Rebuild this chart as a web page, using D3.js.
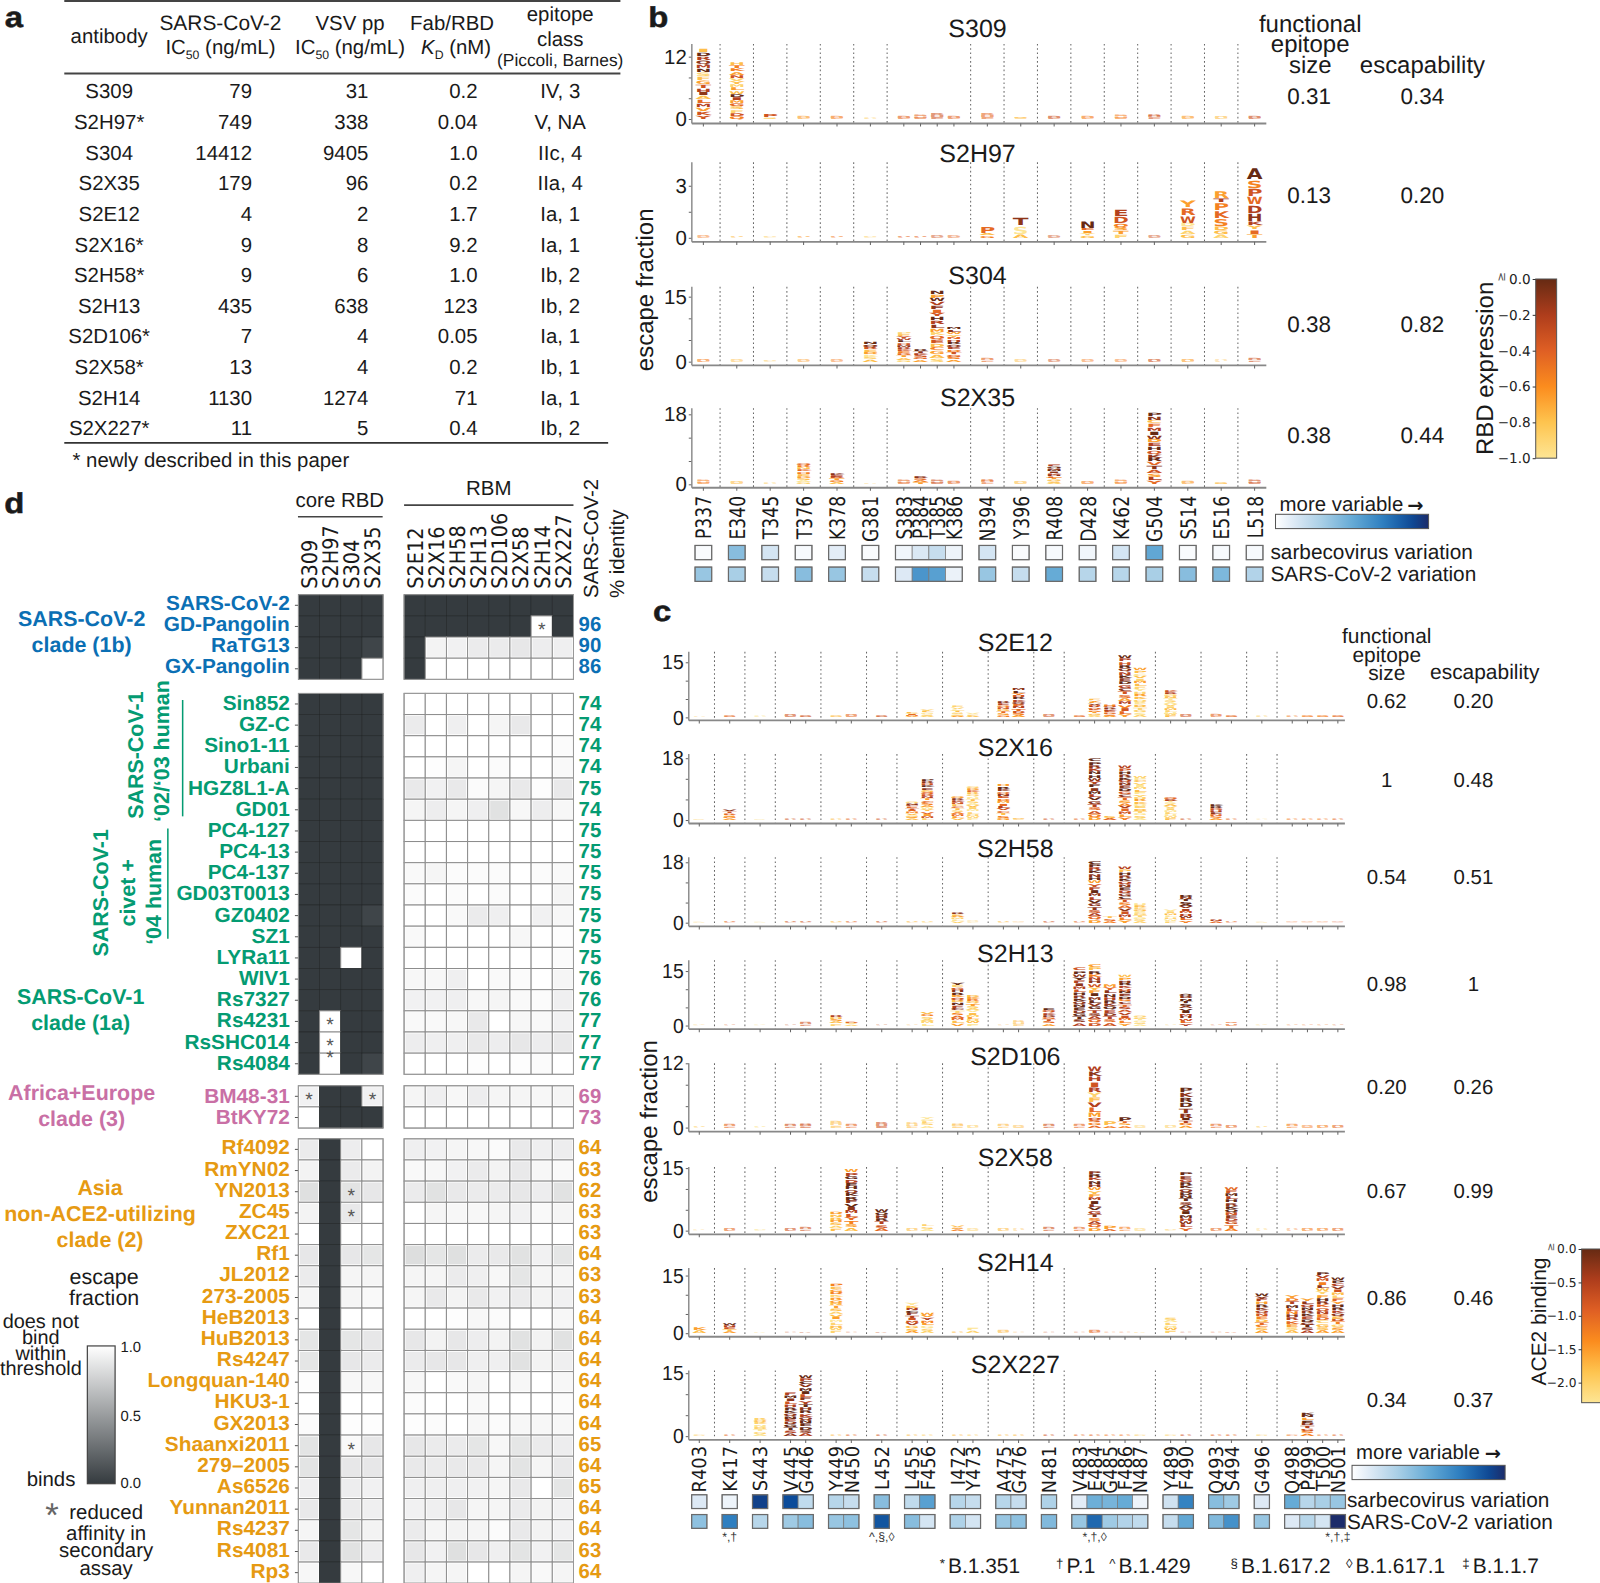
<!DOCTYPE html>
<html><head><meta charset="utf-8">
<script src="https://cdn.jsdelivr.net/npm/d3@7"></script>
<style>html,body{margin:0;padding:0;background:#fff}svg{display:block}text{font-family:"Liberation Sans",Arial,sans-serif;fill:#1a1a1a;text-rendering:geometricPrecision}</style>
</head><body><div id="c"></div>
<script>
// ---------- panel a ----------
const tableRows=[["S309","79","31","0.2","IV, 3"],["S2H97*","749","338","0.04","V, NA"],["S304","14412","9405","1.0","IIc, 4"],["S2X35","179","96","0.2","IIa, 4"],["S2E12","4","2","1.7","Ia, 1"],["S2X16*","9","8","9.2","Ia, 1"],["S2H58*","9","6","1.0","Ib, 2"],["S2H13","435","638","123","Ib, 2"],["S2D106*","7","4","0.05","Ia, 1"],["S2X58*","13","4","0.2","Ib, 1"],["S2H14","1130","1274","71","Ia, 1"],["S2X227*","11","5","0.4","Ib, 2"]];
// ---------- panel b ----------
const groupsB=[["P337"],["E340"],["T345"],["T376"],["K378"],["G381"],["S383","P384","T385","K386"],["N394"],["Y396"],["R408"],["D428"],["K462"],["G504"],["S514"],["E516"],["L518"]];
const escS309=[13.6,11,1,.5,.5,.2,.5,.6,.8,.5,.8,.3,.5,.5,.6,.7,.5,.4,.5];
const escS2H97=[.1,.07,.05,.07,.07,.05,.07,.07,.1,.08,.67,1.2,.08,1.0,1.7,.1,2.2,2.75,4.1];
const escS304=[.5,.4,.2,.4,.4,4.6,6.9,3,16.5,8,.6,.4,.4,.4,.4,.5,.5,.3,.6];
const escS2X35=[.8,.5,.3,5.5,3,.2,.8,2,.8,.7,1,.5,5,.5,.8,18.6,.7,.4,.8];
const lettersS309={P337:"Y6K6V3M7L5A2I8H7T6G3F2S1N9M7Q8R7D9I2",E340:"Q4D6F1S2G5M3I7D9W2L3M1Y2V1N6A3K4T4H2",T345:"S1*1P6*2"};
const lettersS2H97={N394:"G4*1A2*1P5*3",Y396:"A2*1S0*2T8*2",D428:"G2*1Y1*1I3*1E5*1N9*3",K462:"F1*1T3*1S3*1Q4*1D6*2E7*2",S514:"G2*1A1*1F2*1D0*1W6*2R5*2Y3*2",E516:"A1*1G2*1D2*1S4*2K5*2P4*2T7*1R3*2",L518:"T3*1I5*1Y2*1K7*1H8*2D7*2W5*2P6*2S4*2A9*3"};
const lettersS304={G381:"A2S1K0D3E2R6Q8N9",S383:"G1A2T3D5E4K6R7M8H6L9W7Y6F2P1",P384:"A3G5S6K7T8R9",T385:"S1A2G3C4D2E6Q5K1M3L8R7H9Y6I5F8V7W9P3N9",K386:"A3S4G5T6D4E7Q8R9H7N5Y2W3L8M9"};
const lettersS2X35={T376:"G1A0S2D3E2H4K5N2R4Q5",K378:"A2G4T3R6E7K8",P384:"T3A4S5R8",R408:"A1S2G2T3L5H8K7I8M9N8Q9F7",G504:"Y5L7S3A6T8V5R9K8Q6H9E7D3W8I9M7F5C2N8P9"};
const lowToneB=[4,2,1,3,4,1,5,5,6,5,5,2,6,4,4,6,3,2,6];
const sarbecoB=[.02,.4,.15,.03,.1,.02,.05,.13,.2,.06,.15,.02,.03,.05,.15,.52,.02,.03,.03];
const sars2B=[.35,.3,.2,.4,.35,.2,.12,.6,.55,.07,.35,.2,.5,.25,.25,.3,.4,.43,.27];
const metricsB=[["S309","0.31","0.34"],["S2H97","0.13","0.20"],["S304","0.38","0.82"],["S2X35","0.38","0.44"]];
// ---------- panel c ----------
const groupsC=[["R403"],["K417"],["S443"],["V445","G446"],["Y449","N450"],["L452"],["L455","F456"],["I472","Y473"],["A475","G476"],["N481"],["V483","E484","G485","F486","N487"],["Y489","F490"],["Q493","S494"],["G496"],["Q498","P499","T500","N501"]];
const escS2E12=[.2,.5,.3,.6,.5,.5,.6,.5,1.6,2.3,3.2,1.3,4.5,8,.6,.4,5,3.6,17,13.5,7.3,.6,.7,.4,.3,.3,.4,.4,.4];
const escS2X16=[.1,3,.1,.3,.3,.3,.3,.3,5.5,12,7,10,10.5,.4,.3,.3,18,1.4,16,13,6.8,.3,4.8,.3,.2,.3,.3,.3,.3];
const escS2H58=[.1,.3,.1,.3,.3,.3,.3,.3,.3,.3,3.2,.4,.3,.2,.3,.3,18.6,1.9,17,5.8,3.9,8.5,1,.3,.1,.2,.2,.2,.2];
const escS2H13=[.1,.2,.1,.2,.8,3,1.2,.2,.2,3.8,12,8.5,.2,1,4.8,16,17,11.5,14,2.8,.2,8.8,.2,.6,.1,.2,.2,.2,.2];
const escS2D106=[.2,.5,.2,.5,.6,.9,.5,.8,.7,2,.6,.4,.5,.3,.5,.5,11.5,1.2,2,.3,.4,7.5,.5,.4,.2,.5,.3,.4,.4];
const escS2X58=[.1,.5,.2,.5,.6,4.6,14.8,5.2,.5,1.5,1.2,.4,.5,.3,.6,.6,14.5,1.4,.7,.4,.2,14,.5,10.5,.3,.3,.5,.5,.5];
const escS2H14=[1.7,2.5,.1,.2,.1,13,.2,.1,8,5.5,.3,1.4,.7,.2,.2,.2,.7,.2,.2,.1,4.2,.2,.2,.1,10.5,10,9,16,14.5];
const escS2X227=[.2,.3,4.5,10.5,14.7,.3,.3,.3,.3,.3,.3,.3,.3,.3,.3,.3,.3,.3,.3,.2,.2,.3,.3,.3,.2,.2,5.8,.3,.3];
const lettersS2E12={L455:"A3M4I5V1F2",F456:"A1S1G0L2Y1",I472:"A3G1S1T2L0V1F1",Y473:"A2F1V0",A475:"G4S3T5D2N6Q4E7R8",G476:"A3S4D6T5N7E5Q8K7R9H6Y4L9M8",E484:"A1S1G2T3D4K6Q5R7H5V8L3Y3F2",G485:"A3S4D5E6K7R8Q6H4",F486:"Y3L5I6V4M7A3S5T6C8G7D9E8K9N7Q8R9H6P7W9",N487:"A1S0G1T1D2E0Q1K2R3H1Y0F1L2M3I1V2C0P2W3",Y489:"F2W1H0L1M2I1V1A0S1T0N2Q1R7K6"};
const lettersS2X16={K417:"A3G4S3R5T6V8",L455:"A2S3G1V2M4I5T6F5C7N8Q1",F456:"L1M6I3V5Y2W0A3S4C5T3N7D6Q5G2E8K9H6R8P9",I472:"V2L3M5A4S1T2C5F2N6K7R8Q3",Y473:"F0W1H1L1M0I1V2A0S1T2N0Q1R2K5D3G1",A475:"G3S4T2C5V6L7I5M3D4E6N8Q5K8R9H3",E484:"D3Q4A6S5T7G8V9L7M9I8F9Y7W8H9N9K7R8P9C9",G485:"A5S2",F486:"Y4L3M6I5V7A4S3T5C8G6D9E8N8Q7K9R8H9P6W7",N487:"A0S1G0T1D2E1Q0K2R3H1Y1F0L2M1I0V1C2P0W1",Y489:"F2W1H0L1M0I1V1A2S0T0R7Q5",Q493:"A3S4N5E8H7D6R9K9"};
const lettersS2H58={I472:"V1L0M1A3F2R8",E484:"D3Q5A7S6T8G8V9L7M8I9F7Y6W3H9N8K9R7P9C9",G485:"A4S5T2",F486:"Y3L4M7I6V8A5S4T6C9G8D7E9N8Q7K9R8H9P2W7",N487:"A1S1G0T1D1E0Q2K1R2H0",Y489:"F1W0H1L0M2I1V0",F490:"Y4L5W8H7M6I7V8A9S9T9N8D9",Q493:"A5N7"};
const lettersS2H13={Y449:"F1A2S3H2R7",N450:"A1S1D5",F456:"L0M1A1S1G4V2",I472:"V3L2M5A5S4T1C8F7N9D2Q6K3R9H8G6E1Y9",Y473:"F0W2H1L3M1I2V0A1S1T3Q2R4K3D2",N481:"A3S5T6G5D8K7Q6E9",V483:"A7S8T9G9D8E9N9Q8K9R8H9L6M7I8F7Y9W8P9C6",E484:"D6Q5A7S8T7G9V8L9M8I9F3Y2W6H8N7K4R9P2C3",G485:"A6S5T7D8E7Q9K8R9H7N9L8Y5M3",F486:"Y3L4M5I6V7A6S7T5C8G4D9E8N9Q6K7R9H8P3W2",N487:"A0S1G0T0D1Q1",F490:"Y7L5W6H8M7I9V9A8S9T9N9D8Q9"};
const lettersS2D106={F456:"A0S1L1G0Y0",E484:"A5*1G4*1S5*1Q6*1M3*2L5*2V7*2F2*2Y1*2R7*2I6*2H7*2K8*2W7*2",G485:"A4P2*2",F486:"A4S3T5P9*2",F490:"A3G4T7I9*1R8*2T8*2D9*2R9*2K8*2P9*2"};
const lettersS2X58={Y449:"F2A1S2H3R2N2D3",N450:"A2S3T4Y5L6M7I8V9F8R9K9Q8H9E9D7G9P7W3",L452:"A5S6T7R9H8Q9W9",F456:"A0S1L1",I472:"A4S3V2",E484:"D3Q5A7S4T8G7V9L8I9M7F3Y2W3H8N9K7R9P8",G485:"A5P3*2",F490:"Y5L7W8H7M9I9V8A9S8T9N9D9Q8K9R9G7E8P9",S494:"A4T5G6D7E8N6Q9K9R8H9L7M9F6W5"};
const lettersS2H14={R403:"A2K3",K417:"A3T2E6N7W9",Y449:"F1W1H2L1M0I3V2A1S2T3N2Q3R3K1D4G3E2P4",L455:"A3S2G2V7M6I6T7F8C9N7K2Y0",F456:"A1S1G0L3M4Y7V3W3",Y473:"A1F0",Y489:"F1W2H0L1A0S1",G496:"A3S2C4T5D2E4N6Q7K8R9H3F7Y8W9",Q498:"A2S1E3K5R7H8N4L6M9T7D4Y3",P499:"A7S8T9G8D9E7K9R8N9Q7L8Y3",T500:"A3S2G2C1D5E4N7Q6K5R8H9F3Y1W2L8I4M6V7P9",N501:"A3S3G1T4D6E2Q8K7R9H9Y3F5L1M2I6V8C7P9W9"};
const lettersS2X227={S443:"A0G1T0D1N0K1Q2R1",V445:"A8S7T9G9D8E7N9Q8K9R9H7L6I8M9F7",G446:"A7S8D9E9N9Q8K7R9H8T9Y7F8L6I9M9V8C9P7W9",P499:"A4S4G6T7D8E9L3N9K9"};
const lowToneC=[1,5,0,6,6,2,5,6,2,1,2,1,2,2,6,5,5,4,4,1,1,6,5,5,1,4,4,4,5];
const lowLetters="EHB";
const sarbecoC=[.12,.06,.92,.88,.22,.25,.2,.4,.22,.55,.25,.2,.25,.2,.28,.1,.48,.45,.5,.06,.17,.68,.4,.33,.12,.5,.25,.3,.35];
const sars2C=[.38,.7,.25,.33,.4,.35,.38,.85,.4,.15,.28,.15,.35,.38,.42,.35,.78,.33,.27,.22,.2,.52,.42,.62,.35,.12,.25,.15,1.0];
const metricsC=[["S2E12","0.62","0.20"],["S2X16","1","0.48"],["S2H58","0.54","0.51"],["S2H13","0.98","1"],["S2D106","0.20","0.26"],["S2X58","0.67","0.99"],["S2H14","0.86","0.46"],["S2X227","0.34","0.37"]];
const variantMarks=[["K417","*,†"],["L452","^,§,◊"],["E484","*,†,◊"],["N501","*,†,‡"]];
const variantKey=[["*","B.1.351"],["†","P.1"],["^","B.1.429"],["§","B.1.617.2"],["◊","B.1.617.1"],["‡","B.1.1.7"]];
// ---------- panel d ----------
const coreAbs=["S309","S2H97","S304","S2X35"];
const rbmAbs=["S2E12","S2X16","S2H58","S2H13","S2D106","S2X58","S2H14","S2X227"];
const virusesBlue=["SARS-CoV-2","GD-Pangolin","RaTG13","GX-Pangolin"];
const virusesGreen=["Sin852","GZ-C","Sino1-11","Urbani","HGZ8L1-A","GD01","PC4-127","PC4-13","PC4-137","GD03T0013","GZ0402","SZ1","LYRa11","WIV1","Rs7327","Rs4231","RsSHC014","Rs4084"];
const virusesPink=["BM48-31","BtKY72"];
const virusesOrange=["Rf4092","RmYN02","YN2013","ZC45","ZXC21","Rf1","JL2012","273-2005","HeB2013","HuB2013","Rs4247","Longquan-140","HKU3-1","GX2013","Shaanxi2011","279–2005","As6526","Yunnan2011","Rs4237","Rs4081","Rp3"];
const identityBlue=["",96,90,86];
const identityGreen=[74,74,74,74,75,74,75,75,75,75,75,75,75,76,76,77,77,77];
const identityPink=[69,73];
const identityOrange=[64,63,62,63,63,64,63,63,64,64,64,64,64,64,65,64,65,64,64,63,64];
const heatBlue=[[0,0,0,0,0,0,0,0,0,0,0,0],[0,0,0,0,0,0,0,0,0,0,1,0],[0,0,0,.05,0,.94,.93,.9,.9,.88,.91,.92],[0,0,0,1,0,1,1,1,1,1,1,1]];
const heatGreen=[[0,0,0,0,1,1,1,1,1,1,1,1],[0,0,0,0,.9,1,.92,1,.95,.89,1,1],[0,0,0,0,1,1,1,1,1,1,1,.98],[0,0,0,0,1,.99,.95,1,.98,1,1,.97],[0,0,0,0,.89,.93,.89,.98,.95,.89,.99,.89],[0,0,0,0,.95,.91,.95,.92,.85,.96,.91,.96],[0,0,0,0,1,1,1,1,1,1,1,1],[0,0,0,0,1,1,1,1,1,1,1,1],[0,0,0,0,.97,.95,.98,.98,.98,1,.98,.97],[0,0,0,0,.98,1,.98,1,.98,1,1,.95],[0,0,0,.05,1,1,.97,.9,.92,1,.93,.96],[0,0,0,0,.97,1,1,1,1,.96,1,.99],[0,0,1,0,1,1,1,1,1,1,1,.98],[0,0,0,0,.96,.96,.92,1,.97,.98,1,.95],[0,0,0,0,.93,.93,.92,.96,.95,.97,.98,.92],[0,1,0,0,.97,.97,.96,.89,1,.96,.97,.93],[0,1,0,0,.91,.92,.92,.89,.91,.88,.91,.89],[0,1,0,.05,1,1,1,.99,1,.99,.98,1]];
const heatPink=[[.93,0,0,.93,.95,.92,.96,.91,.95,.95,.96,.95],[1,0,0,0,1,1,1,1,1,1,1,1]];
const heatOrange=[[.9,0,.91,1,.92,.93,.95,.96,.98,.89,.92,.91],[.94,0,.9,.94,.97,.96,.93,.9,.94,.89,.96,.97],[.84,0,.86,.88,.9,.85,.89,.9,.9,.88,.91,.85],[.94,0,.89,1,1,.95,.96,.96,.95,.93,.97,.95],[1,0,1,1,1,1,1,1,1,1,1,1],[.88,0,.88,.87,.83,.87,.84,.9,.89,.85,.93,.87],[.9,0,.95,.95,.95,.95,.9,.92,.96,.87,.95,.95],[.95,0,.95,.97,.95,.89,.94,.89,.93,.9,.94,.93],[1,0,1,1,1,1,.99,.96,.98,1,1,.96],[.87,0,.87,.88,.88,.94,.88,.91,.94,.85,.94,.85],[.87,0,.88,.9,.9,.88,.88,.92,.92,.85,.94,.92],[.99,0,.96,.96,.96,1,.97,.95,1,.96,1,.96],[1,0,1,1,.98,1,1,.97,1,1,1,.98],[.98,0,.99,.99,.99,.98,1,.96,.98,.96,.96,.96],[.86,0,.97,.88,.88,.9,.9,.87,.96,.87,.9,.91],[.86,0,.88,.88,.89,.9,.89,.89,.95,.86,.95,.89],[.92,0,.91,.93,.92,.92,.92,.93,.95,.89,1,.87],[.89,0,.9,.92,.93,.92,.88,.95,.95,.9,.94,.93],[.95,0,.87,.94,.9,.95,.94,.95,.98,.89,.94,.93],[.89,0,.85,.91,.88,.93,.84,.88,.92,.86,.93,.87],[.96,0,.96,1,.92,.95,.95,1,1,.95,.97,.95]];
const reducedAffinity=[["GD-Pangolin","S2H14"],["Rs4231","S2H97"],["RsSHC014","S2H97"],["Rs4084","S2H97"],["BM48-31","S309"],["BM48-31","S2X35"],["YN2013","S304"],["ZC45","S304"],["Shaanxi2011","S304"]];

const BLUE="#0b6fb4",GREEN="#049b72",PINK="#c96fa5",ORANGE="#e69a12";
const MONO='"DejaVu Sans"';
const svg=d3.select("#c").append("svg").attr("width",1600).attr("height",1583).attr("viewBox","0 0 1568 1551.3");
const root=svg.append("g");
const defs=svg.append("defs");

function T(x,y,s,o={}){
  const size=o.size||20;
  const t=(o.g||root).append("text").text(s).attr("font-size",size)
    .attr("text-anchor",o.anchor||"middle");
  if(o.weight)t.attr("font-weight",o.weight);
  if(o.family)t.style("font-family",o.family);
  if(o.fill)t.style("fill",o.fill);
  const sx=o.sx||1;
  const rot=o.rotate?` rotate(${o.rotate})`:"";
  t.attr("transform",`translate(${x},${y})${rot} scale(${sx},1)`).attr("dy",(o.dy===undefined?.35:o.dy)+"em");
  return t;
}
function line(x1,y1,x2,y2,c="#444",w=1.5,dash){
  const l=root.append("line").attr("x1",x1).attr("y1",y1).attr("x2",x2).attr("y2",y2).attr("stroke",c).attr("stroke-width",w);
  if(dash)l.attr("stroke-dasharray",dash);return l;
}
function gradient(id,stops,vertical){
  const g=defs.append("linearGradient").attr("id",id).attr("x1",0).attr("y1",vertical?1:0).attr("x2",vertical?0:1).attr("y2",0);
  stops.forEach((c,i)=>g.append("stop").attr("offset",i/(stops.length-1)).attr("stop-color",c));
}
// panel letters
[["a",13.5,16.2],["b",645,16.2],["c",649,599.2],["d",14,492.9]].forEach(d=>T(d[1],d[2],d[0],{size:28,weight:700,sx:1.15}).style("stroke","#1a1a1a").style("stroke-width",.5));

// ---------- a ----------
line(63,1,608,1,"#444",2);line(63,72,608,72,"#444",2);line(63,434,596,434,"#333",1.6);
T(107,35,"antibody",{size:20});
T(216,22,"SARS-CoV-2",{size:20.5});T(343,22,"VSV pp",{size:20});T(443,22,"Fab/RBD",{size:20});
function ic(x,y){const t=T(x,y,"",{size:20});t.append("tspan").text("IC");t.append("tspan").attr("font-size",12).attr("dy",5).text("50");t.append("tspan").attr("dy",-5).text(" (ng/mL)");}
ic(216,46);ic(343,46);
{const t=T(447,46,"",{size:20});t.append("tspan").attr("font-style","italic").text("K");t.append("tspan").attr("font-size",12).attr("dy",5).text("D");t.append("tspan").attr("dy",-5).text(" (nM)");}
T(549,14,"epitope",{size:20});T(549,38,"class",{size:20});T(549,59,"(Piccoli, Barnes)",{size:17});
const rowY=d3.scaleLinear().domain([0,11]).range([89.5,419.5]);
tableRows.forEach((r,i)=>{const y=rowY(i);
  T(107,y,r[0]);T(247,y,r[1],{anchor:"end"});T(361,y,r[2],{anchor:"end"});T(468,y,r[3],{anchor:"end"});T(549,y,r[4]);});
T(71,451,"* newly described in this paper",{anchor:"start"});

// ---------- logo machinery ----------
const toneColor=d3.scaleLinear().domain([0,.2,.4,.6,.8,1]).range(["#fde594","#fec44f","#fb8c1e","#df5f24","#ae3d1c","#662a13"]);
const blues=d3.scaleLinear().domain([0,.12,.3,.5,.7,.88,1]).range(["#ffffff","#dde9f5","#a9cfe6","#66abd6","#2f7fc0","#0c4c9a","#1c2c6a"]);
const meas=root.append("text").attr("font-size",10).attr("font-weight",700).style("font-family",MONO).attr("opacity",0);
const adv={};
function advance(ch){if(!(ch in adv)){meas.text(ch);adv[ch]=meas.node().getComputedTextLength();}return adv[ch];}
function parseStack(str){const out=[];str.replace(/([A-Z])(\d)(?:\*(\d))?/g,(m,a,b,c)=>{out.push({ch:a,tone:+b/9,w:c?+c:1});return m;});return out;}
function layoutSites(groups,x0,half){
  const sites=[],bounds=[];
  groups.forEach(g=>g.forEach(s=>sites.push(s)));
  const x=d3.scaleLinear().domain([0,1]).range([x0,x0+half]);
  const pos={};let p=0;
  groups.forEach(g=>{g.forEach((s,k)=>{pos[s]=x(p);if(k<g.length-1)p+=1;});bounds.push(x(p+1));p+=2;});
  bounds.pop();
  return {sites,pos,bounds};
}
function logoPanel(cfg){
  const {L,heights,letters,lowTone,w}=cfg;
  const y=d3.scaleLinear().domain([0,cfg.max]).range([cfg.y0,cfg.yMax]);
  L.bounds.forEach(b=>line(b,cfg.top,b,cfg.axisY,"#666",1,"1.6,2.6"));
  const ay=root.append("g").attr("transform",`translate(${cfg.axisX},0)`);
  const tv=d3.range(0,cfg.parts+1).map(i=>cfg.max*i/cfg.parts);
  ay.call(d3.axisLeft(y).tickValues(tv).tickSize(3).tickFormat(""));
  ay.selectAll("text").remove();ay.select(".domain").remove();ay.selectAll("line").attr("stroke","#666").attr("stroke-width",1);
  line(cfg.axisX,cfg.top,cfg.axisX,cfg.axisY,"#888",1.4);
  line(cfg.axisX,cfg.axisY,cfg.xEnd,cfg.axisY,"#888",1.8);
  T(cfg.axisX-5,y(0),"0",{anchor:"end",size:cfg.tickSize,sx:cfg.tickSx});
  T(cfg.axisX-5,y(cfg.max),String(cfg.max),{anchor:"end",size:cfg.tickSize,sx:cfg.tickSx});
  const ax=root.append("g").attr("transform",`translate(0,${cfg.axisY})`);
  const xs=L.sites.map(s=>L.pos[s]);
  ax.selectAll("line").data(xs).join("line").attr("x1",d=>d).attr("x2",d=>d).attr("y1",0).attr("y2",3).attr("stroke","#666");
  const G=root.append("g");
  L.sites.forEach((s,i)=>{
    const str=letters[s];
    const h=str?heights[i]:heights[i]*1.4;
    const toks=str?parseStack(str):lowLetters.split("").map(c=>({ch:c,tone:lowTone[i]/9,w:1}));
    const tot=d3.sum(toks,t=>t.w);let acc=0;
    toks.forEach(t=>{
      const b=y(h*acc/tot),tp=y(h*(acc+t.w)/tot);acc+=t.w;
      const gap=str?.86:1;
      G.append("text").text(t.ch).attr("font-size",10).attr("font-weight",700).attr("text-anchor","middle")
        .style("font-family",MONO).style("fill",toneColor(t.tone)).attr("fill-opacity",str?1:.62)
        .attr("transform",`translate(${L.pos[s]},${b}) scale(${w*1.13/advance(t.ch)},${gap*(b-tp)/7.29})`);
    });
  });
}
function sitesAndCells(L,groups,cfg,sarb,sars){
  L.sites.forEach(s=>T(L.pos[s],cfg.labelY,s,{rotate:-90,anchor:"end",family:MONO,size:cfg.labelSize,sx:cfg.labelSx,dy:.37}));
  [[cfg.row1,sarb],[cfg.row2,sars]].forEach(([ry,vals])=>{
    let k=0;
    groups.forEach(g=>{
      const x0=L.pos[g[0]]-cfg.half,ww=cfg.half*2*g.length;
      g.forEach(s=>{
        root.append("rect").attr("x",L.pos[s]-cfg.half).attr("y",ry-cfg.cell/2).attr("width",cfg.half*2).attr("height",cfg.cell)
          .attr("fill",blues(vals[k])).attr("stroke","#777").attr("stroke-width",.7);k++;});
      root.append("rect").attr("x",x0).attr("y",ry-cfg.cell/2).attr("width",ww).attr("height",cfg.cell)
        .attr("fill","none").attr("stroke","#6a6a6a").attr("stroke-width",1.2);
    });
  });
}
gradient("gBlue",d3.range(0,1.001,.1).map(v=>blues(v)),false);
gradient("gOr",d3.range(0,1.001,.1).map(v=>toneColor(v)),true);
gradient("gGray",["#353b3f","#ffffff"],true);
function moreVariable(x,y,barX,barY,arrowX){
  T(x,y,"more variable",{anchor:"start",size:20});
  T(arrowX,y+1,"→",{anchor:"start",size:19,weight:700,family:MONO});
  root.append("rect").attr("x",barX).attr("y",barY).attr("width",150).attr("height",14).attr("fill","url(#gBlue)").attr("stroke","#555").attr("stroke-width",1);
}
function colorbar(cfg){
  root.append("rect").attr("x",cfg.x).attr("y",cfg.y0).attr("width",cfg.w).attr("height",cfg.y1-cfg.y0).attr("fill","url(#gOr)").attr("stroke","#555").attr("stroke-width",1);
  const s=d3.scaleLinear().domain(cfg.domain).range([cfg.y0,cfg.y1]);
  const a=root.append("g").attr("transform",`translate(${cfg.x},0)`);
  a.call(d3.axisLeft(s).tickValues(cfg.ticks).tickSize(3).tickPadding(2).tickFormat(v=>(v===0?"0.0":"−"+Math.abs(v).toFixed(1))));
  a.select(".domain").remove();
  a.selectAll("line").attr("stroke","#333");
  a.selectAll("text").attr("font-size",cfg.font).style("font-family",MONO).style("fill","#222");
  T(cfg.geX,cfg.y0-2,"≥",{size:cfg.font-2,rotate:-90,family:MONO,fill:"#555"});
  T(cfg.labelX,cfg.labelY,cfg.label,{rotate:-90,size:cfg.labelSize});
}

// ---------- b ----------
const LB=layoutSites(groupsB,689.3,16.37);
const commonB={L:LB,axisX:678,xEnd:1241,lowTone:lowToneB,w:13.7,tickSize:20};
logoPanel({...commonB,heights:escS309,letters:lettersS309,max:12,parts:3,y0:116.6,yMax:55.5,top:43,axisY:121});
logoPanel({...commonB,heights:escS2H97,letters:lettersS2H97,max:3,parts:2,y0:233,yMax:182,top:159,axisY:237});
logoPanel({...commonB,heights:escS304,letters:lettersS304,max:15,parts:3,y0:354.4,yMax:290.7,top:281,axisY:358});
logoPanel({...commonB,heights:escS2X35,letters:lettersS2X35,max:18,parts:3,y0:474.6,yMax:406,top:400,axisY:478});
const titleYB=[28,150,270,389],valueYB=[94,191,318,426];
metricsB.forEach((m,i)=>{T(958,titleYB[i],m[0],{size:24.5});T(1283,valueYB[i],m[1],{size:22});T(1394,valueYB[i],m[2],{size:22});});
T(1284,23,"functional",{size:23.5});T(1284,43,"epitope",{size:23.5});T(1284,63,"size",{size:23.5});T(1394,63,"escapability",{size:23.5});
T(632,284,"escape fraction",{rotate:-90,size:23.5});
sitesAndCells(LB,groupsB,{labelY:486,labelSize:21,labelSx:.8,row1:541.5,row2:562.7,half:8.18,cell:14},sarbecoB,sars2B);
T(1245,541,"sarbecovirus variation",{anchor:"start",size:20.4});T(1245,562,"SARS-CoV-2 variation",{anchor:"start",size:20.4});
moreVariable(1254,494,1250,504,1379);
colorbar({x:1505,w:20.5,y0:273.4,y1:449,domain:[0,-1],ticks:[0,-.2,-.4,-.6,-.8,-1],font:13.3,geX:1471,labelX:1455,labelY:361,label:"RBD expression",labelSize:23.5});

// ---------- c ----------
const LC=layoutSites(groupsC,685.3,14.9);
const commonC={L:LC,axisX:675,xEnd:1318,lowTone:lowToneC,w:12.4,tickSize:20,tickSx:.95};
logoPanel({...commonC,heights:escS2E12,letters:lettersS2E12,max:15,parts:3,y0:703,yMax:649,top:638.7,axisY:706});
logoPanel({...commonC,heights:escS2X16,letters:lettersS2X16,max:18,parts:3,y0:803.6,yMax:743,top:739,axisY:807});
logoPanel({...commonC,heights:escS2H58,letters:lettersS2H58,max:18,parts:3,y0:904.2,yMax:845,top:840,axisY:907.8});
logoPanel({...commonC,heights:escS2H13,letters:lettersS2H13,max:15,parts:3,y0:1005,yMax:951.6,top:941,axisY:1008.5});
logoPanel({...commonC,heights:escS2D106,letters:lettersS2D106,max:12,parts:3,y0:1105,yMax:1042,top:1042,axisY:1109});
logoPanel({...commonC,heights:escS2X58,letters:lettersS2X58,max:15,parts:3,y0:1206,yMax:1144.7,top:1143.7,axisY:1209.6});
logoPanel({...commonC,heights:escS2H14,letters:lettersS2H14,max:15,parts:3,y0:1306.5,yMax:1250,top:1242.7,axisY:1310});
logoPanel({...commonC,heights:escS2X227,letters:lettersS2X227,max:15,parts:3,y0:1407.4,yMax:1345.7,top:1343,axisY:1411});
const titleYC=[629,732,831,934,1035,1134,1237,1337],valueYC=[687,764,859,964,1065,1167,1272,1372];
metricsC.forEach((m,i)=>{T(995,titleYC[i],m[0],{size:24.5});T(1359,valueYC[i],m[1],{size:20});T(1444,valueYC[i],m[2],{size:20});});
T(1359,623,"functional",{size:20.5});T(1359,642,"epitope",{size:20.5});T(1359,659,"size",{size:20.5});T(1455,658,"escapability",{size:20.5});
T(636,1099,"escape fraction",{rotate:-90,size:23.5});
sitesAndCells(LC,groupsC,{labelY:1417,labelSize:19,labelSx:.92,row1:1471.6,row2:1491,half:7.45,cell:13.5},sarbecoC,sars2C);
T(1320,1470,"sarbecovirus variation",{anchor:"start",size:20.4});T(1320,1491,"SARS-CoV-2 variation",{anchor:"start",size:20.4});
moreVariable(1329,1423,1325,1436,1455);
colorbar({x:1550,w:19,y0:1224,y1:1374.6,domain:[0,-2.3],ticks:[0,-.5,-1,-1.5,-2],font:12,geX:1519,labelX:1508,labelY:1295,label:"ACE2 binding",labelSize:20.5});
variantMarks.forEach(m=>T(LC.pos[m[0]],1506,m[1],{size:12,fill:"#333"}));
const keyX=[921,1035,1087,1206,1319,1433];
variantKey.forEach((k,i)=>{const t=T(keyX[i],1535,"",{anchor:"start",size:20.5});
  t.append("tspan").attr("font-size",13).attr("dy",2).text(k[0]);t.append("tspan").attr("dy",5).attr("dx",3).text(k[1]);});

// ---------- d ----------
const abs=coreAbs.concat(rbmAbs);
const colW=20.75,rowH=20.74;
const colX=a=>{const i=abs.indexOf(a);return i<4?292.4+i*colW:396+(i-4)*colW;};
const gray=d3.interpolateRgb("#353b3f","#ffffff");
const groupsD=[
 {v:virusesBlue,h:heatBlue,id:identityBlue,c:BLUE,top:582.8,lift:2.5},
 {v:virusesGreen,h:heatGreen,id:identityGreen,c:GREEN,top:679.5,lift:1.2},
 {v:virusesPink,h:heatPink,id:identityPink,c:PINK,top:1064,lift:.5},
 {v:virusesOrange,h:heatOrange,id:identityOrange,c:ORANGE,top:1116,lift:2}];
const rowOf={};
groupsD.forEach(gr=>{
  gr.v.forEach((name,r)=>{
    const y=gr.top+r*rowH;rowOf[name]=y;
    T(284,y+rowH/2-gr.lift,name,{anchor:"end",weight:700,fill:gr.c,size:20,sx:1.02});
    line(289,y+rowH/2,292.4,y+rowH/2,"#555",1);
    if(gr.id[r]!=="")T(567,y+rowH/2-gr.lift,gr.id[r],{anchor:"start",weight:700,fill:gr.c,size:20});
    abs.forEach((a,c)=>{
      const v=gr.h[r][c],x=colX(a);
      root.append("rect").attr("x",x).attr("y",y).attr("width",colW).attr("height",rowH)
        .attr("fill",v<.3?gray(v):"#fff").attr("stroke",v<.3?"#25292b":"#8d8d8d").attr("stroke-width",v<.3?.7:1);
      if(v>=.3)root.append("rect").attr("x",x+1.4).attr("y",y+1.4).attr("width",colW-2.8).attr("height",rowH-2.8).attr("fill",gray(v));
    });
  });
  [[292.4,4],[396,8]].forEach(([x,n])=>root.append("rect").attr("x",x).attr("y",gr.top).attr("width",n*colW).attr("height",gr.v.length*rowH).attr("fill","none").attr("stroke","#9a9a9a").attr("stroke-width",1));
});
reducedAffinity.forEach(([v,a])=>{
  const dy=v==="Rs4084"?-9:0;
  T(colX(a)+colW/2,rowOf[v]+rowH/2+3+dy,"*",{size:19,fill:"#555"});
});
abs.forEach(a=>T(colX(a)+colW/2,577,a,{rotate:-90,anchor:"start",family:MONO,size:21,sx:.9,dy:.37}));
T(333,490,"core RBD");line(292,506.5,375,506.5,"#444",1.5);
T(479,478,"RBM");line(396,495,562,495,"#444",1.5);
T(579,586,"SARS-CoV-2",{rotate:-90,anchor:"start"});T(605,586,"% identity",{rotate:-90,anchor:"start"});
[[80,606,"SARS-CoV-2",BLUE],[80,632,"clade (1b)",BLUE],[79,977,"SARS-CoV-1",GREEN],[79,1002,"clade (1a)",GREEN],[80,1071,"Africa+Europe",PINK],[80,1096,"clade (3)",PINK],[98,1164,"Asia",ORANGE],[98,1189,"non-ACE2-utilizing",ORANGE],[98,1215,"clade (2)",ORANGE]].forEach(d=>T(d[0],d[1],d[2],{weight:700,fill:d[3],size:21}));
[[133,740,"SARS-CoV-1"],[158,736,"‘02/‘03 human"],[98,875,"SARS-CoV-1"],[125,875,"civet +"],[150,874,"‘04 human"]].forEach(d=>T(d[0],d[1],d[2],{weight:700,fill:GREEN,size:21,rotate:-90}));
line(179,686,179,800,GREEN,1.5);line(164.5,812,164.5,920,GREEN,1.5);
T(102,1251,"escape",{size:21});T(102,1272,"fraction",{size:21});
[["does not",1295],["bind",1310.5],["within",1325.6],["threshold",1340.7]].forEach(d=>T(40,d[1],d[0],{size:19.5}));
T(50,1449,"binds");
root.append("rect").attr("x",85.6).attr("y",1319).attr("width",27.2).attr("height",135).attr("fill","url(#gGray)").attr("stroke","#444").attr("stroke-width",1.2);
[["1.0",1320],["0.5",1387],["0.0",1453]].forEach(d=>T(118,d[1],d[0],{anchor:"start",size:14.5}));
T(51,1485,"*",{size:34,fill:"#666"});
[["reduced",1482],["affinity in",1502],["secondary",1519],["assay",1536]].forEach(d=>T(104,d[1],d[0]));
meas.remove();
</script></body></html>
